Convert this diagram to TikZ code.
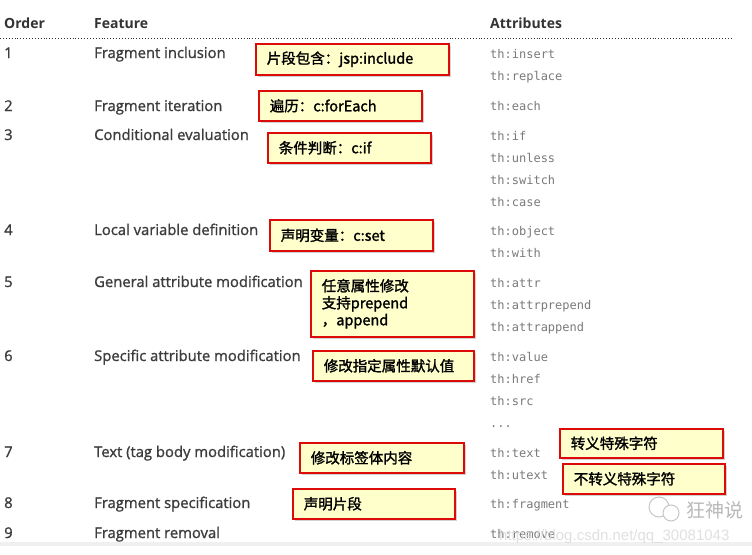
\documentclass[tikz,border=0pt]{standalone}
\usepackage{fontspec}
\setmainfont{Open Sans}
\newfontfamily\featf{Open Sans}[FakeBold=1.2]
\newfontfamily\cjk{Noto Sans CJK SC}
\newfontfamily\cjkbox{Noto Sans CJK SC}[FakeBold=1.6]
\newfontfamily\monof{DejaVu Sans Mono}
\newfontfamily\wmf{Liberation Sans}
\usetikzlibrary{shadows}
\definecolor{hdr}{HTML}{333333}
\definecolor{ftc}{HTML}{3C3C3C}
\definecolor{atc}{HTML}{7A7A7A}
\definecolor{boxred}{HTML}{DD0A0A}
\definecolor{boxfill}{HTML}{FFFFCC}
\begin{document}
\begin{tikzpicture}[x=1pt,y=-1pt,
  hd/.style={anchor=base west, inner sep=0pt, font=\bfseries\fontsize{14}{16}\selectfont, text=hdr},
  ft/.style={anchor=base west, inner sep=0pt, font=\featf\fontsize{14.8}{17}\selectfont, text=ftc},
  attrtxt/.style={anchor=base west, inner sep=0pt, font=\monof\fontsize{12}{14}\selectfont, text=atc},
  cbox/.style={draw=boxred, line width=1.6pt, fill=boxfill, anchor=north west,
    inner xsep=11pt, inner ysep=0pt, align=left,
    font=\cjkbox\fontsize{14.5}{17}\selectfont,
    drop shadow={shadow xshift=2.5pt, shadow yshift=-2.5pt, opacity=0.35}},
]
\useasboundingbox (0,0) rectangle (752,554);
\fill[white] (0,0) rectangle (752,554);
% header
\node[hd] (hOrder) at (4,28) {Order};
\node[hd] (hFeat) at (94,28) {Feature};
\node[hd] (hAttr) at (490,28) {Attributes};
\coordinate (ls) at (0,38);
\coordinate (le) at (733,38);
\draw[dotted, line width=0.9pt, hdr] (ls) -- (le);
% numbers and features
\node[ft] (n1) at (4,58) {1};   \node[ft] (f1) at (94,58) {Fragment inclusion};
\node[ft] (n2) at (4,111) {2};  \node[ft] (f2) at (94,111) {Fragment iteration};
\node[ft] (n3) at (4,140) {3};  \node[ft] (f3) at (94,140) {Conditional evaluation};
\node[ft] (n4) at (4,235) {4};  \node[ft] (f4) at (94,235) {Local variable definition};
\node[ft] (n5) at (4,287) {5};  \node[ft] (f5) at (94,287) {General attribute modification};
\node[ft] (n6) at (4,361) {6};  \node[ft] (f6) at (94,361) {Specific attribute modification};
\node[ft] (n7) at (4,457) {7};  \node[ft] (f7) at (94,457) {Text (tag body modification)};
\node[ft] (n8) at (4,508) {8};  \node[ft] (f8) at (94,508) {Fragment specification};
\node[ft] (n9) at (4,538) {9};  \node[ft] (f9) at (94,538) {Fragment removal};
% attributes
\node[attrtxt] (a1) at (490,58) {th:insert};
\node[attrtxt] (a2) at (490,80) {th:replace};
\node[attrtxt] (a3) at (490,110) {th:each};
\node[attrtxt] (a4) at (490,140) {th:if};
\node[attrtxt] (a5) at (490,162) {th:unless};
\node[attrtxt] (a6) at (490,184) {th:switch};
\node[attrtxt] (a7) at (490,206) {th:case};
\node[attrtxt] (a8) at (490,235) {th:object};
\node[attrtxt] (a9) at (490,257) {th:with};
\node[attrtxt] (a10) at (490,287) {th:attr};
\node[attrtxt] (a11) at (490,309) {th:attrprepend};
\node[attrtxt] (a12) at (490,331) {th:attrappend};
\node[attrtxt] (a13) at (490,361) {th:value};
\node[attrtxt] (a14) at (490,383) {th:href};
\node[attrtxt] (a15) at (490,405) {th:src};
\node[attrtxt] (a16) at (490,427) {...};
\node[attrtxt] (a17) at (490,457) {th:text};
\node[attrtxt] (a18) at (490,479) {th:utext};
\node[attrtxt] (a19) at (490,508) {th:fragment};
\node[attrtxt] (a20) at (490,538) {th:remove};
% boxes
\node[cbox, minimum width=193pt, text width=171pt, minimum height=31pt] (b1) at (255,43) {片段包含：jsp:include};
\node[cbox, minimum width=163pt, text width=141pt, minimum height=30pt] (b2) at (258,90) {遍历：c:forEach};
\node[cbox, minimum width=163pt, text width=141pt, minimum height=30pt] (b3) at (267,132) {条件判断：c:if};
\node[cbox, minimum width=163pt, text width=141pt, minimum height=31pt] (b4) at (269,219) {声明变量：c:set};
\node[cbox, minimum width=163pt, text width=141pt, minimum height=66pt] (b5) at (310,270) {任意属性修改\\支持prepend\\，append};
\node[cbox, minimum width=161pt, text width=139pt, minimum height=30pt] (b6) at (312,350) {修改指定属性默认值};
\node[cbox, minimum width=164pt, text width=142pt, minimum height=30pt] (b7) at (299,442) {修改标签体内容};
\node[cbox, minimum width=162pt, text width=140pt, minimum height=30pt] (b8) at (292,488) {声明片段};
\node[cbox, minimum width=163pt, text width=141pt, minimum height=29pt] (b9) at (559,428) {转义特殊字符};
\node[cbox, minimum width=162pt, text width=140pt, minimum height=30pt] (b10) at (562,463) {不转义特殊字符};
% bottom band
\fill[gray!12] (0,542) rectangle (752,546);
% watermark
\node[anchor=base west, inner sep=0pt, font=\wmf\fontsize{15}{15}\selectfont, text=gray!30, opacity=0.8] (wm) at (499,540) {https://blog.csdn.net/qq\_30081043};
\draw[gray!45, line width=1pt] (659,507) circle[radius=10];
\draw[gray!45, line width=1pt, fill=white] (671,513) circle[radius=8];
\node[anchor=base west, inner sep=0pt, font=\cjk\fontsize{19}{19}\selectfont, text=gray!55] (wx) at (686,517) {狂神说};
\end{tikzpicture}
\end{document}
